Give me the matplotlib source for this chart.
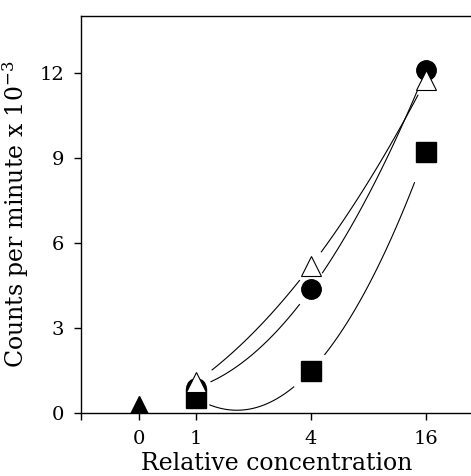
import matplotlib
matplotlib.use('Agg')
import matplotlib.pyplot as plt
import numpy as np

plt.rcParams['font.family'] = ['DejaVu Serif']
plt.rcParams['mathtext.fontset'] = 'dejavuserif'

# 相对浓度（类别）和各组读数
conc_labels = ['0', '1', '4', '16']
conc_pos = [-0.5, 0, 1, 2]

ctrl_y = [0.3]                     # 实心三角，浓度 0
open_tri_y = [1.1, 5.2, 11.75]     # 空心三角，浓度 1/4/16
circle_y = [0.9, 4.37, 12.1]       # 实心圆
square_y = [0.53, 1.5, 9.2]        # 实心方块

fig = plt.figure(figsize=(4.71, 4.76), dpi=100)
ax = fig.add_axes([0.172, 0.132, 0.83, 0.834])

xs = np.array(conc_pos[1:], dtype=float)

# 拟合曲线（二次），在标记附近留空
def draw_fit(yv, segs):
    coef = np.polyfit(xs, yv, 2)
    for a, b in segs:
        t = np.linspace(a, b, 100)
        ax.plot(t, np.polyval(coef, t), color='black', lw=0.8)

draw_fit(open_tri_y, [(0.14, 0.9), (1.09, 1.93)])
draw_fit(circle_y, [(0.13, 0.9), (1.1, 1.93)])
draw_fit(square_y, [(0.12, 0.85), (1.12, 1.9)])

ax.plot(xs, square_y, 's', color='black', ms=14, zorder=3)
ax.plot(xs, circle_y, 'o', color='black', ms=14, zorder=4)
ax.plot(xs, open_tri_y, '^', mfc='white', mec='black', mew=0.8, ms=14, zorder=5)
ax.plot([conc_pos[0]], ctrl_y, '^', color='black', ms=13, zorder=3)

ax.set_xlim(-1, 2.4)
ax.set_ylim(0, 14)
ax.set_xticks([-1] + conc_pos)
ax.set_xticklabels([''] + conc_labels)
ax.set_yticks([0, 3, 6, 9, 12])
ax.tick_params(direction='out', length=5, width=1, labelsize=14, pad=7)
ax.spines['right'].set_visible(False)
for s in ['left', 'bottom', 'top']:
    ax.spines[s].set_linewidth(1)

ax.set_xlabel('Relative concentration', fontsize=17, labelpad=3)
ax.set_ylabel('Counts per minute x 10$^{-3}$', fontsize=17, labelpad=6)

fig.savefig('out.png', dpi=100)
